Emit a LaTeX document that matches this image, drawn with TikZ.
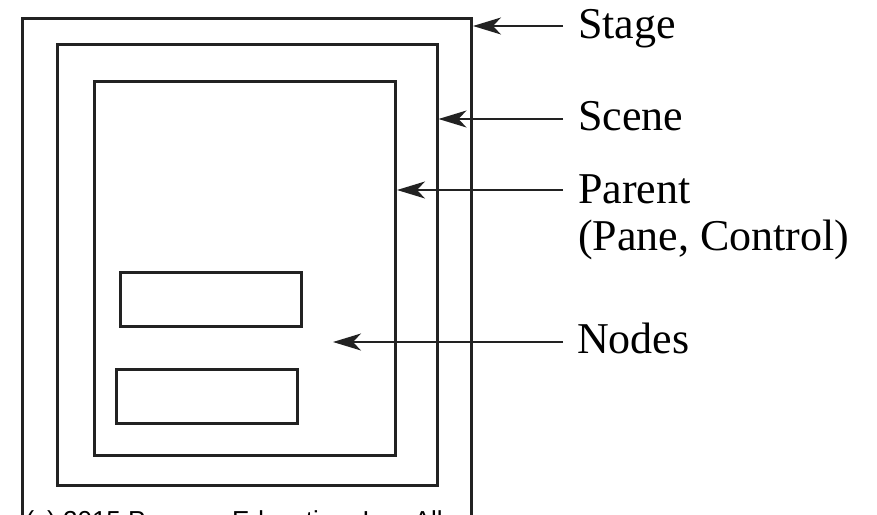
\documentclass[tikz,border=0pt]{standalone}
\usepackage{fontspec}
\setmainfont{Liberation Serif}
\newfontfamily\notefont{Liberation Sans}
\usetikzlibrary{arrows.meta}
\definecolor{ink}{HTML}{222222}
\begin{document}
\begin{tikzpicture}[x=1pt,y=-1pt,
  frame/.style={draw=ink, line width=3pt, anchor=north west, inner sep=0pt, outer sep=0pt},
  pointer/.style={draw=ink, line width=1.6pt, -{Stealth[length=28pt,width=17pt,inset=8pt]}},
  label/.style={anchor=base west, inner sep=0pt, outer sep=0pt, text=black,
    font=\fontsize{44}{47}\selectfont}
]
\useasboundingbox (0,0) rectangle (877,514);
\clip (0,0) rectangle (877,514);

% nested containers
\node[frame, minimum width=449.5pt, minimum height=521.5pt] (stage) at (22,18.5) {};
\node[frame, minimum width=379.5pt, minimum height=441pt] (scene) at (57.5,44.5) {};
\node[frame, minimum width=301.5pt, minimum height=374.5pt] (parent) at (94,81) {};
\node[frame, minimum width=181.5pt, minimum height=54pt] (nodeA) at (120,272.5) {};
\node[frame, minimum width=180.5pt, minimum height=54pt] (nodeB) at (116.5,369.5) {};

% labels
\node[label] (lstage) at (578,38) {Stage};
\node[label] (lscene) at (578,130) {Scene};
\node[label] (lparent) at (578,203) {Parent};
\node[label] (lpane) at (578,250) {(Pane, Control)};
\node[label] (lnodes) at (577,353) {Nodes};

% leader arrows
\coordinate (sT) at (563,26);
\coordinate (cT) at (563,119);
\coordinate (pT) at (563,190);
\coordinate (nT) at (563,342);
\coordinate (nodesTip) at (333,342);
\draw[pointer] (sT) -- ([xshift=1.5pt]stage.east |- sT);
\draw[pointer] (cT) -- ([xshift=1.5pt]scene.east |- cT);
\draw[pointer] (pT) -- ([xshift=1.5pt]parent.east |- pT);
\draw[pointer] (nT) -- (nodesTip);

% credit line along the bottom edge
\node[anchor=base east, inner sep=0pt, font=\notefont\fontsize{26}{26}\selectfont, text=black] (credit) at (443,529.5) {n (c) 2015 Pearson Education, Inc. All};
\end{tikzpicture}
\end{document}
